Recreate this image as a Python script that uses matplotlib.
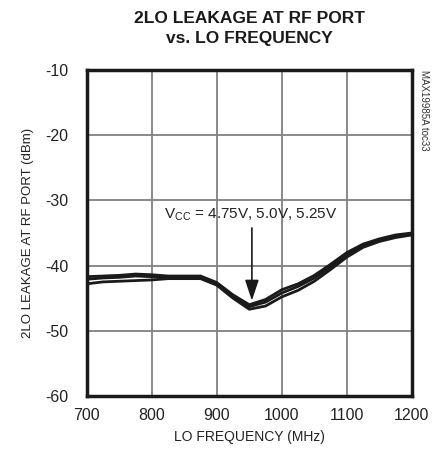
import matplotlib
matplotlib.use('Agg')
import matplotlib.pyplot as plt

plt.rcParams['font.family'] = ['Liberation Sans', 'DejaVu Sans']
plt.rcParams['axes.unicode_minus'] = False

# LO frequency (MHz)
freq = [700, 725, 750, 775, 800, 825, 850, 875, 900, 925, 950, 975,
        1000, 1025, 1050, 1075, 1100, 1125, 1150, 1175, 1200]

# 2LO leakage (dBm) for the three supply voltages
leak_a = [-41.7, -41.6, -41.5, -41.3, -41.4, -41.6, -41.6, -41.6, -42.6, -44.5, -46.0, -45.2,
          -43.7, -42.8, -41.5, -39.8, -38.0, -36.7, -35.9, -35.3, -35.0]
leak_b = [-42.1, -41.9, -41.8, -41.6, -41.7, -41.8, -41.8, -41.8, -42.8, -44.7, -46.3, -45.6,
          -44.2, -43.2, -41.9, -40.2, -38.3, -36.9, -36.1, -35.5, -35.1]
leak_c = [-42.8, -42.5, -42.4, -42.3, -42.2, -42.0, -42.0, -42.0, -43.0, -45.0, -46.7, -46.2,
          -44.8, -43.8, -42.4, -40.6, -38.7, -37.2, -36.3, -35.7, -35.3]

xticks = [700, 800, 900, 1000, 1100, 1200]
yticks = [-60, -50, -40, -30, -20, -10]

fig = plt.figure(figsize=(4.41, 4.54), dpi=100)
ax = fig.add_axes([0.1966, 0.1278, 0.7374, 0.718])

for s in (leak_a, leak_b, leak_c):
    ax.plot(freq, s, color='#1a1a1a', linewidth=2.0, solid_capstyle='round')

ax.set_xlim(700, 1200)
ax.set_ylim(-60, -10)
ax.set_xticks(xticks)
ax.set_yticks(yticks)
ax.tick_params(length=0, labelsize=11.5, colors='#222222')
ax.tick_params(axis='y', pad=13)
ax.tick_params(axis='x', pad=9)
ax.grid(True, color='#808080', linewidth=1.3)
ax.set_axisbelow(True)
for sp in ax.spines.values():
    sp.set_linewidth(2.5)
    sp.set_color('#1a1a1a')

ax.set_xlabel('LO FREQUENCY (MHz)', fontsize=10, labelpad=5, color='#222222')
ax.set_ylabel('2LO LEAKAGE AT RF PORT (dBm)', fontsize=9.5, labelpad=8, color='#222222')

fig.text(0.565, 0.975, '2LO LEAKAGE AT RF PORT\nvs. LO FREQUENCY', ha='center', va='top',
         fontsize=12.5, fontweight='bold', linespacing=1.35, color='#1a1a1a')

ax.text(819, -32.2, r'V$_{\mathregular{CC}}$ = 4.75V, 5.0V, 5.25V', fontsize=11,
        va='center', color='#222222')
ax.annotate('', xy=(954, -45.8), xytext=(954, -33.8),
            arrowprops=dict(arrowstyle='-|>,head_length=0.9,head_width=0.3',
                            color='#1a1a1a', lw=1.2, mutation_scale=14))

fig.text(0.962, 0.845, 'MAX19985A toc33', rotation=270, ha='center', va='top',
         fontsize=7, color='#333333')

fig.savefig('out.png', dpi=100)
